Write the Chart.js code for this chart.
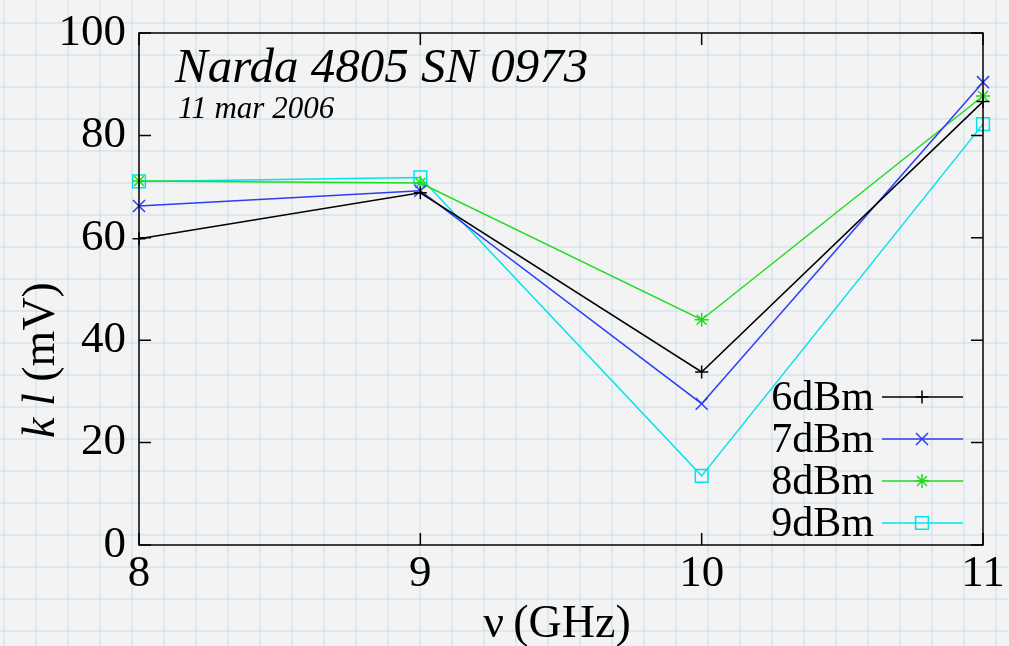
<!DOCTYPE html>
<html>
<head>
<meta charset="utf-8">
<title>Narda 4805 SN 0973</title>
<script src="https://cdn.jsdelivr.net/npm/chart.js@4/dist/chart.umd.min.js"></script>
<style>
    html, body {
        margin: 0;
        padding: 0;
    }
    body {
        width: 1009px;
        height: 646px;
        overflow: hidden;
        background-color: #f3f3f3;
        /* graph paper backdrop */
        background-image:
            linear-gradient(to right, rgba(175, 212, 226, 0.33) 0, rgba(175, 212, 226, 0.33) 2px, transparent 2px),
            linear-gradient(to bottom, rgba(175, 212, 226, 0.33) 0, rgba(175, 212, 226, 0.33) 2px, transparent 2px);
        background-size: 32px 32px;
        background-position: 3px 22px;
    }
    #plot {
        display: block;
    }
</style>
</head>
<body>
<canvas id="plot" width="1009" height="646"></canvas>
<script>
var frequencies = [8, 9, 10, 11];
var seriesLabels = ["6dBm", "7dBm", "8dBm", "9dBm"];
var power6dBm = [59.8, 68.8, 33.8, 86.6];
var power7dBm = [66.2, 69.2, 27.6, 90.4];
var power8dBm = [71.1, 70.7, 44.0, 87.7];
var power9dBm = [71.0, 71.8, 13.5, 82.2];
var xTicks = [8, 9, 10, 11];
var yTicks = [0, 20, 40, 60, 80, 100];

(function(global){
    "use strict";

    var SERIF = "'Liberation Serif', 'Times New Roman', serif";

    var styles = [
        {color: "#000000", pointStyle: "cross", radius: 6.5},
        {color: "#2b3df5", pointStyle: "crossRot", radius: 8.5},
        {color: "#1fdc1f", pointStyle: "star", radius: 7},
        {color: "#00e4ee", pointStyle: "rect", radius: 9}
    ];

    var toPoints = function(values) {
        var pts = [];
        for(var i = 0; i < frequencies.length; i++) {
            pts.push({x: frequencies[i], y: values[i]});
        }
        return pts;
    };

    var allSeries = [power6dBm, power7dBm, power8dBm, power9dBm];
    var datasets = [];
    for(var i = 0; i < allSeries.length; i++) {
        var s = styles[i];
        datasets.push({
            label: seriesLabels[i],
            data: toPoints(allSeries[i]),
            borderColor: s.color,
            backgroundColor: "rgba(0,0,0,0)",
            borderWidth: 1.5,
            pointStyle: s.pointStyle,
            pointRadius: s.radius,
            pointBorderColor: s.color,
            pointBackgroundColor: "rgba(0,0,0,0)",
            pointBorderWidth: 1.5,
            pointHoverRadius: s.radius,
            tension: 0,
            fill: false,
            clip: false
        });
    }

    // box, inward ticks, captions and the legend are drawn by hand
    var framePlugin = {
        id: "frame",
        afterDraw: function(chart) {
            var ctx = chart.ctx;
            var area = chart.chartArea;
            var xs = chart.scales.x;
            var ys = chart.scales.y;
            var tick = 12;

            ctx.save();
            ctx.strokeStyle = "#000";
            ctx.lineWidth = 1.5;
            ctx.strokeRect(area.left, area.top, area.right - area.left, area.bottom - area.top);

            ctx.beginPath();
            for(var i = 0; i < yTicks.length; i++) {
                var py = ys.getPixelForValue(yTicks[i]);
                ctx.moveTo(area.left, py);
                ctx.lineTo(area.left + tick, py);
                ctx.moveTo(area.right, py);
                ctx.lineTo(area.right - tick, py);
            }
            for(var j = 0; j < xTicks.length; j++) {
                var px = xs.getPixelForValue(xTicks[j]);
                ctx.moveTo(px, area.bottom);
                ctx.lineTo(px, area.bottom - tick);
                ctx.moveTo(px, area.top);
                ctx.lineTo(px, area.top + tick);
            }
            ctx.stroke();

            // captions in the top-left corner
            ctx.fillStyle = "#000";
            ctx.textAlign = "left";
            ctx.textBaseline = "alphabetic";
            ctx.font = "italic 49px " + SERIF;
            ctx.fillText("Narda 4805 SN 0973", area.left + 36, area.top + 49);
            ctx.font = "italic 31px " + SERIF;
            ctx.fillText("11 mar 2006", area.left + 39, area.top + 85);

            // x axis title
            ctx.textAlign = "center";
            ctx.font = "46px " + SERIF;
            ctx.fillText("\u03bd\u2009(GHz)", 557, 637);

            // y axis title, k and l in italics
            ctx.save();
            ctx.translate(54, 360);
            ctx.rotate(-Math.PI / 2);
            ctx.textAlign = "left";
            var parts = [
                {text: "k", font: "italic 46px " + SERIF},
                {text: " ", font: "46px " + SERIF},
                {text: "l", font: "italic 46px " + SERIF},
                {text: " (mV)", font: "46px " + SERIF}
            ];
            var total = 0;
            for(var p = 0; p < parts.length; p++) {
                ctx.font = parts[p].font;
                parts[p].w = ctx.measureText(parts[p].text).width;
                total += parts[p].w;
            }
            var cx = -total / 2;
            for(var q = 0; q < parts.length; q++) {
                ctx.font = parts[q].font;
                ctx.fillText(parts[q].text, cx, 0);
                cx += parts[q].w;
            }
            ctx.restore();

            // legend in the lower right corner
            var rowY = [397, 439, 481, 523];
            for(var r = 0; r < chart.data.datasets.length; r++) {
                var ds = chart.data.datasets[r];
                ctx.fillStyle = "#000";
                ctx.font = "42px " + SERIF;
                ctx.textAlign = "right";
                ctx.textBaseline = "middle";
                ctx.fillText(ds.label, 874, rowY[r] + 2);

                ctx.strokeStyle = ds.borderColor;
                ctx.lineWidth = 1.5;
                ctx.beginPath();
                ctx.moveTo(882, rowY[r]);
                ctx.lineTo(963, rowY[r]);
                ctx.stroke();

                ctx.fillStyle = "rgba(0,0,0,0)";
                Chart.helpers.drawPoint(ctx, {
                    pointStyle: ds.pointStyle,
                    radius: ds.pointRadius,
                    rotation: 0,
                    borderWidth: 1.5
                }, 922, rowY[r]);
            }
            ctx.restore();
        }
    };

    var tickFont = {family: SERIF, size: 45};

    global.plotChart = new Chart(document.getElementById("plot"), {
        type: "line",
        data: {datasets: datasets},
        options: {
            responsive: false,
            animation: false,
            devicePixelRatio: 1,
            layout: {padding: {top: 33, right: 26, left: 0, bottom: 0}},
            plugins: {
                legend: {display: false},
                tooltip: {enabled: false}
            },
            scales: {
                x: {
                    type: "linear",
                    min: 8,
                    max: 11,
                    afterFit: function(scale) {
                        scale.height = 101;
                        scale.paddingLeft = 0;
                        scale.paddingRight = 0;
                    },
                    afterBuildTicks: function(scale) {
                        scale.ticks = xTicks.map(function(v){ return {value: v}; });
                    },
                    grid: {display: false, drawTicks: false},
                    border: {display: false},
                    ticks: {color: "#000", font: tickFont, padding: 2}
                },
                y: {
                    type: "linear",
                    min: 0,
                    max: 100,
                    afterFit: function(scale) {
                        scale.width = 139;
                        scale.paddingTop = 0;
                        scale.paddingBottom = 0;
                    },
                    afterBuildTicks: function(scale) {
                        scale.ticks = yTicks.map(function(v){ return {value: v}; });
                    },
                    grid: {display: false, drawTicks: false},
                    border: {display: false},
                    ticks: {color: "#000", font: tickFont, padding: 13}
                }
            }
        },
        plugins: [framePlugin]
    });

})(window);
</script>
</body>
</html>
